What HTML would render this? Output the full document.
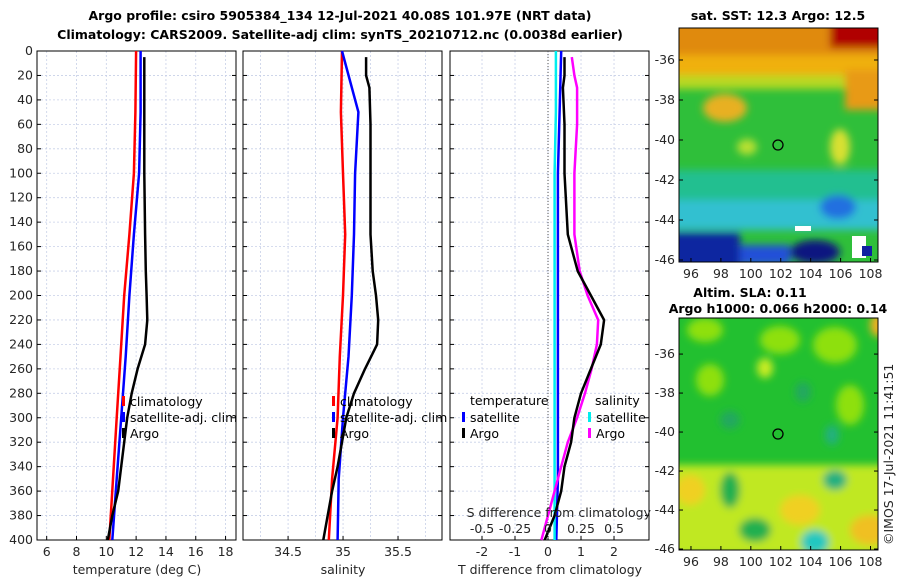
<!DOCTYPE html>
<html><head><meta charset="utf-8"><style>
body{margin:0;background:#fff;}
svg{display:block;font-family:"DejaVu Sans","Liberation Sans",sans-serif;}
.t{font-size:12.5px;fill:#262626}
.b{font-size:12.5px;font-weight:bold;fill:#000}
.lg{font-size:12.5px;fill:#000}
</style></head><body>
<svg id="fig" width="900" height="580" viewBox="0 0 900 580">
<rect width="900" height="580" fill="#fff"/>
<text class="b" x="340" y="20" text-anchor="middle">Argo profile: csiro 5905384_134 12-Jul-2021 40.08S 101.97E (NRT data)</text>
<text class="b" x="340" y="39" text-anchor="middle">Climatology: CARS2009. Satellite-adj clim: synTS_20210712.nc (0.0038d earlier)</text>
<g id="panels"></g>
<g id="maps">
 <defs>
  <filter id="bl" x="-20%" y="-20%" width="140%" height="140%"><feGaussianBlur stdDeviation="4"/></filter>
  <clipPath id="c1"><rect x="679" y="28" width="199" height="234"/></clipPath>
  <clipPath id="c2"><rect x="679" y="318" width="199" height="232"/></clipPath>
 </defs>
 <g clip-path="url(#c1)">
  <rect x="679" y="28" width="199" height="234" fill="#2fbf3a"/>
  <g filter="url(#bl)">
   <rect x="670" y="20" width="220" height="45" fill="#e08a10"/>
   <rect x="670" y="55" width="220" height="25" fill="#f0b010"/>
   <rect x="670" y="75" width="220" height="14" fill="#b8d820"/>
   <rect x="830" y="20" width="60" height="28" fill="#b00000"/>
   <rect x="845" y="70" width="45" height="40" fill="#e89a18"/>
   <ellipse cx="725" cy="108" rx="22" ry="14" fill="#e8b020"/>
   <ellipse cx="840" cy="147" rx="10" ry="18" fill="#d8e030"/>
   <ellipse cx="747" cy="147" rx="10" ry="8" fill="#b8e030"/>
   <rect x="670" y="170" width="220" height="45" fill="#20bf90"/>
   <rect x="670" y="200" width="220" height="30" fill="#30c0d0"/>
   <ellipse cx="838" cy="207" rx="18" ry="12" fill="#2070e0"/>
   <rect x="670" y="232" width="70" height="40" fill="#1028a0"/>
   <ellipse cx="815" cy="252" rx="25" ry="12" fill="#101880"/>
   <rect x="740" y="245" width="50" height="20" fill="#2050d8"/>
  </g>
  <rect x="795" y="226" width="16" height="5" fill="#fff"/>
  <rect x="852" y="236" width="14" height="22" fill="#fff"/>
  <rect x="862" y="246" width="10" height="10" fill="#1020a0"/>
 </g>
 <rect x="679" y="28" width="199" height="234" fill="none" stroke="#000" stroke-width="1"/>
 <circle cx="778" cy="145" r="5" fill="none" stroke="#000" stroke-width="1.3"/>
 <text class="b" x="778" y="20" text-anchor="middle">sat. SST: 12.3 Argo: 12.5</text>
 <g clip-path="url(#c2)">
  <rect x="679" y="318" width="199" height="232" fill="#22c030"/>
  <g filter="url(#bl)">
   <ellipse cx="705" cy="330" rx="18" ry="12" fill="#8ee010"/>
   <ellipse cx="780" cy="340" rx="20" ry="14" fill="#8ee010"/>
   <ellipse cx="835" cy="345" rx="22" ry="18" fill="#8ee010"/>
   <ellipse cx="765" cy="368" rx="8" ry="10" fill="#c8ec20"/>
   <ellipse cx="710" cy="380" rx="14" ry="16" fill="#8ee010"/>
   <ellipse cx="850" cy="405" rx="14" ry="20" fill="#8ee010"/>
   <rect x="670" y="465" width="220" height="90" fill="#c0e820"/>
   <ellipse cx="690" cy="490" rx="15" ry="15" fill="#f0d020"/>
   <ellipse cx="800" cy="510" rx="20" ry="15" fill="#f0d020"/>
   <ellipse cx="870" cy="530" rx="20" ry="15" fill="#f0c020"/>
   <ellipse cx="878" cy="325" rx="8" ry="12" fill="#f0b020"/>
   <ellipse cx="730" cy="490" rx="10" ry="18" fill="#20b050"/>
   <ellipse cx="755" cy="530" rx="16" ry="12" fill="#20b050"/>
   <ellipse cx="815" cy="542" rx="14" ry="12" fill="#20c8c0"/>
   <ellipse cx="835" cy="480" rx="12" ry="10" fill="#20b080"/>
   <ellipse cx="803" cy="392" rx="8" ry="10" fill="#20a860"/>
   <ellipse cx="730" cy="420" rx="10" ry="9" fill="#20a860"/>
   <ellipse cx="832" cy="435" rx="7" ry="10" fill="#20b080"/>
  </g>
 </g>
 <rect x="679" y="318" width="199" height="232" fill="none" stroke="#000" stroke-width="1"/>
 <circle cx="778" cy="434" r="5" fill="none" stroke="#000" stroke-width="1.3"/>
 <text class="b" x="750" y="297" text-anchor="middle">Altim. SLA: 0.11</text>
 <text class="b" x="778" y="313" text-anchor="middle">Argo h1000: 0.066 h2000: 0.14</text>
 <text class="t" transform="translate(893,545) rotate(-90)">©IMOS 17-Jul-2021 11:41:51</text>
</g>
</svg>
<script>
// ---- data ----
const depthTicks=[0,20,40,60,80,100,120,140,160,180,200,220,240,260,280,300,320,340,360,380,400];
const tTicks=[6,8,10,12,14,16,18];
const sTicks=[34.5,35,35.5];
const dTTicks=[-2,-1,0,1,2];
const dTLabels=["-2","-1","0","1","2"];
const dSTicks=[-0.5,-0.25,0,0.25,0.5];
const dSLabels=["-0.5","-0.25","0","0.25","0.5"];
const latTicks=[-36,-38,-40,-42,-44,-46];
const lonTicks=[96,98,100,102,104,106,108];

const climDepth=[0,50,100,150,200,250,300,350,400];
const tClim=[12.0,11.95,11.85,11.55,11.2,10.95,10.7,10.45,10.2];
const tSat=[12.3,12.3,12.2,11.85,11.55,11.3,11.0,10.7,10.4];
const sClim=[34.99,34.98,35.0,35.02,35.0,34.97,34.95,34.9,34.87];
const sSat=[34.99,35.14,35.11,35.1,35.08,35.05,35.0,34.96,34.95];
const dTSat=[0.4,0.35,0.3,0.3,0.3,0.3,0.3,0.3,0.25];
const dSSat=[0.06,0.06,0.05,0.05,0.05,0.05,0.05,0.05,0.05];

const argoDepth=[5,20,30,60,100,150,180,200,220,240,260,280,300,320,340,360,380,400];
const tArgo=[12.55,12.55,12.55,12.55,12.55,12.6,12.65,12.7,12.75,12.6,12.1,11.7,11.4,11.2,11.0,10.8,10.4,10.1];
const sArgo=[35.21,35.21,35.24,35.25,35.25,35.25,35.27,35.3,35.32,35.31,35.2,35.1,35.03,34.99,34.95,34.9,34.86,34.82];
const dTArgo=[0.5,0.5,0.45,0.5,0.5,0.6,0.9,1.3,1.7,1.6,1.3,1.0,0.8,0.7,0.5,0.4,0.2,-0.1];
const dSArgo=[0.18,0.2,0.22,0.22,0.2,0.2,0.24,0.3,0.38,0.37,0.33,0.28,0.22,0.15,0.1,0.05,0.0,-0.05];

// ---- axes ----
const NS="http://www.w3.org/2000/svg";
const Y0=51,Y1=540;
const yD=d=>Y0+(d/400)*(Y1-Y0);
function lin(d0,d1,r0,r1){return v=>r0+(v-d0)/(d1-d0)*(r1-r0);}
const panels=[
 {x0:37,x1:236,dom:[5.35,18.7],name:"temperature-panel"},
 {x0:243,x1:442,dom:[34.09,35.9],name:"salinity-panel"},
 {x0:450,x1:649,dom:[-2.97,3.06],name:"difference-panel"}];
const root=document.getElementById('panels');
function mk(tag,attrs,parent){const e=document.createElementNS(NS,tag);for(const k in attrs)e.setAttribute(k,attrs[k]);(parent||root).appendChild(e);return e;}
function txt(x,y,s,anchor,cls,parent){const e=mk('text',{x:x,y:y,'text-anchor':anchor||'middle',class:cls||'t'},parent);e.textContent=s;return e;}
function poly(xs,ds,xf,color,w,name,g){
 const pts=xs.map((v,i)=>xf(v).toFixed(1)+","+yD(ds[i]).toFixed(1)).join(" ");
 const p=mk('polyline',{points:pts,fill:'none',stroke:color,'stroke-width':w,'stroke-linejoin':'round'},g);
 
 
}
function legend(g,x,items,y0){
 y0=y0||402;
 items.forEach((it,i)=>{const y=y0+i*16;
  const m=mk('rect',{x:x,y:y-6,width:3,height:10,fill:it[0]},g);
  
  
  const l=txt(x+8,y+4,it[1],'start','lg',g);
  
  });
}
panels.forEach((P,pi)=>{
 const g=mk('g',{});
 
 
 P.x=lin(P.dom[0],P.dom[1],P.x0,P.x1);
 const xt=pi==0?tTicks:pi==1?sTicks:dTTicks;
 depthTicks.forEach(d=>{mk('line',{x1:P.x0,x2:P.x1,y1:yD(d),y2:yD(d),stroke:'#c8d0e8','stroke-width':0.8,'stroke-dasharray':'2,2'},g);});
 const gx=pi==0?[6,8,10,12,14,16,18]:pi==1?[34.25,34.5,34.75,35,35.25,35.5,35.75]:dTTicks;
 gx.forEach(v=>{mk('line',{x1:P.x(v),x2:P.x(v),y1:Y0,y2:Y1,stroke:'#c8d0e8','stroke-width':0.8,'stroke-dasharray':'2,2'},g);});
 depthTicks.forEach(d=>{mk('line',{x1:P.x0,x2:P.x0+4,y1:yD(d),y2:yD(d),stroke:'#000'},g);mk('line',{x1:P.x1,x2:P.x1-4,y1:yD(d),y2:yD(d),stroke:'#000'},g);
  if(pi==0){const l=txt(P.x0-4,yD(d)+4,String(d),'end','t',g);}});
 xt.forEach((v,i)=>{mk('line',{x1:P.x(v),x2:P.x(v),y1:Y1,y2:Y1-4,stroke:'#000'},g);
  const l=txt(P.x(v),Y1+16,pi==2?dTLabels[i]:String(v),'middle','t',g);
  
  });
 mk('rect',{x:P.x0,y:Y0,width:P.x1-P.x0,height:Y1-Y0,fill:'none',stroke:'#000','stroke-width':1},g);
 if(pi==0){
  poly(tClim,climDepth,P.x,'#f00',2.5,'temp-climatology-line',g);
  poly(tSat,climDepth,P.x,'#00f',2.5,'temp-satellite-line',g);
  poly(tArgo,argoDepth,P.x,'#000',2.5,'temp-argo-line',g);
  const t=txt(P.x0+100,Y1+34,'temperature (deg C)','middle','t',g);
  legend(g,122,[['#f00','climatology'],['#00f','satellite-adj. clim'],['#000','Argo']]);
 } else if(pi==1){
  poly(sClim,climDepth,P.x,'#f00',2.5,'sal-climatology-line',g);
  poly(sSat,climDepth,P.x,'#00f',2.5,'sal-satellite-line',g);
  poly(sArgo,argoDepth,P.x,'#000',2.5,'sal-argo-line',g);
  const t=txt(P.x0+100,Y1+34,'salinity','middle','t',g);
  legend(g,332,[['#f00','climatology'],['#00f','satellite-adj. clim'],['#000','Argo']]);
 } else {
  const sx=v=>P.x(v*4);
  mk('line',{x1:P.x(0),x2:P.x(0),y1:Y0,y2:Y1,stroke:'#555','stroke-dasharray':'1,2'},g);
  poly(dTSat,climDepth,P.x,'#00f',2.5,'dtemp-satellite-line',g);
  poly(dSSat,climDepth,sx,'#0ee',2.5,'dsal-satellite-line',g);
  poly(dSArgo,argoDepth,sx,'#f0f',2.5,'dsal-argo-line',g);
  poly(dTArgo,argoDepth,P.x,'#000',2.5,'dtemp-argo-line',g);
  dSTicks.forEach((v,i)=>{const l=txt(sx(v),533,dSLabels[i],'middle','t',g);});
  const a=txt(P.x1+2,517,'S difference from climatology','end','t',g);
  const t=txt(P.x0+100,Y1+34,'T difference from climatology','middle','t',g);
  txt(470,405,'temperature','start','lg',g);
  txt(595,405,'salinity','start','lg',g);
  legend(g,462,[['#00f','satellite'],['#000','Argo']],418);
  legend(g,588,[['#0ee','satellite'],['#f0f','Argo']],418);
 }
});
const mg=document.getElementById('maps');
const lonX=lin(95.2,108.5,679,878);
[[28,262,-34.4,-46.1],[318,550,-34.15,-46.05]].forEach(m=>{
 const ly=lin(m[2],m[3],m[0],m[1]);
 latTicks.forEach(v=>{mk('line',{x1:679,x2:683,y1:ly(v),y2:ly(v),stroke:'#000'},mg);mk('line',{x1:878,x2:874,y1:ly(v),y2:ly(v),stroke:'#000'},mg);
  const l=txt(675,ly(v)+4,String(v),'end','t',mg);});
 lonTicks.forEach(v=>{mk('line',{x1:lonX(v),x2:lonX(v),y1:m[1],y2:m[1]-4,stroke:'#000'},mg);
  const l=txt(lonX(v),m[1]+16,String(v),'middle','t',mg);});
});
</script>
</body></html>
